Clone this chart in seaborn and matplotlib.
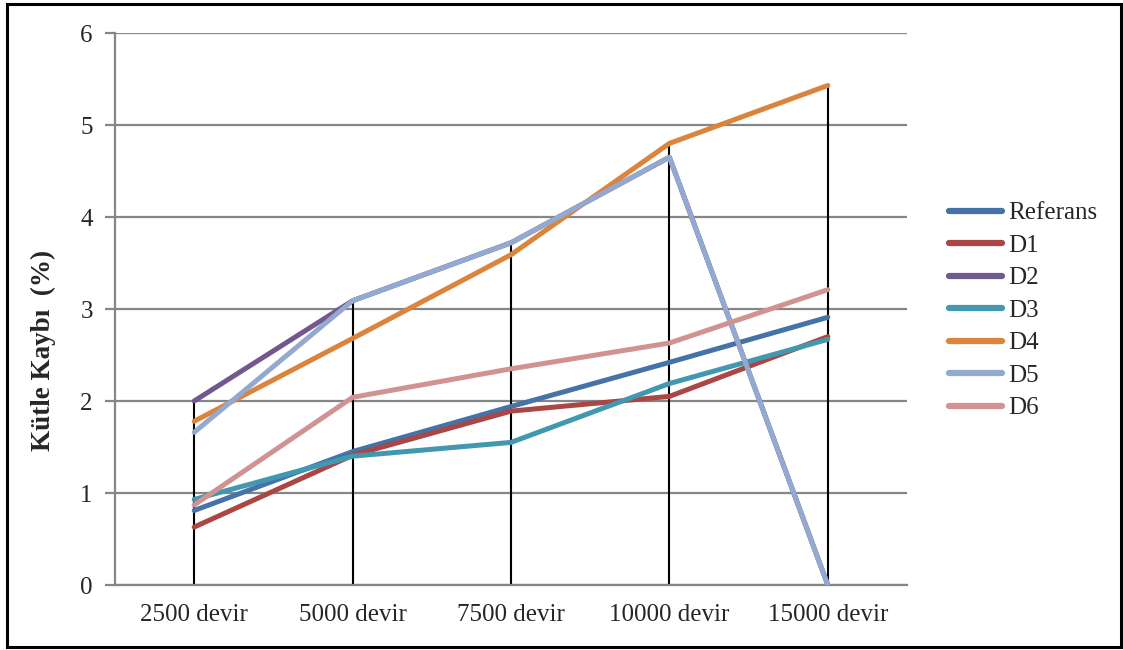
import matplotlib
matplotlib.use("Agg")
import matplotlib.pyplot as plt
import seaborn as sns
import pandas as pd
from matplotlib.patches import Rectangle
from matplotlib.lines import Line2D

categories = ["2500 devir", "5000 devir", "7500 devir", "10000 devir", "15000 devir"]
referans = [0.81, 1.45, 1.94, 2.42, 2.91]
d1 = [0.63, 1.41, 1.89, 2.05, 2.70]
d2 = [2.00, 3.09, 3.72, 4.65, 0.00]
d3 = [0.93, 1.40, 1.55, 2.19, 2.67]
d4 = [1.78, 2.68, 3.59, 4.80, 5.43]
d5 = [1.66, 3.09, 3.72, 4.65, 0.00]
d6 = [0.87, 2.04, 2.35, 2.63, 3.21]
series_names = ["Referans", "D1", "D2", "D3", "D4", "D5", "D6"]
y_ticks = [0, 1, 2, 3, 4, 5, 6]
y_label = "Kütle Kaybı  (%)"

colors = ["#4572A7", "#AA4643", "#71588F", "#4198AF", "#DB843D", "#93A9CF", "#D19392"]

series = [referans, d1, d2, d3, d4, d5, d6]
rows = []
for name, vals in zip(series_names, series):
    for i, (cat, v) in enumerate(zip(categories, vals)):
        rows.append({"pos": i, "devir": cat, "seri": name, "deger": v})
df = pd.DataFrame(rows)

sns.set_theme(style="white")
plt.rcParams["font.family"] = ["Liberation Serif", "DejaVu Serif"]

fig = plt.figure(figsize=(11.23, 6.5), dpi=100)
ax = fig.add_axes([115 / 1123, 65 / 650, (907 - 115) / 1123, (585 - 33) / 650])

# drop lines from the highest value in each category down to zero
tops = df.groupby("pos")["deger"].max()
ax.vlines(tops.index, 0, tops.values, color="black", linewidth=1.5, zorder=2)

sns.lineplot(data=df, x="pos", y="deger", hue="seri", hue_order=series_names,
             palette=colors, linewidth=3.6, ax=ax, legend=False,
             solid_capstyle="round", zorder=3, sort=False, estimator=None)

ax.set_xlim(-0.5, len(categories) - 0.5)
ax.set_ylim(0, 6)
ax.set_yticks(y_ticks)
ax.set_yticklabels([str(t) for t in y_ticks], fontsize=18)
ax.set_xticks(range(len(categories)))
ax.set_xticklabels(categories, fontsize=18)
ax.set_xlabel("")
ax.set_ylabel("")
fig.text(43 / 1123, 1 - 350 / 650, y_label, rotation=90, ha="center", va="center",
         fontsize=19.5, fontweight="bold")

ax.grid(axis="y", color="#868686", linewidth=1.6, zorder=1)
ax.grid(axis="x", visible=False)
for side in ["top", "right"]:
    ax.spines[side].set_visible(False)
ax.spines["left"].set_color("#868686")
ax.spines["left"].set_linewidth(1.6)
ax.spines["bottom"].set_color("#868686")
ax.spines["bottom"].set_linewidth(1.6)
ax.tick_params(axis="y", length=7, width=1.6, color="#868686", pad=9, left=True)
ax.tick_params(axis="x", length=0, pad=14)

handles = [Line2D([0], [0], color=c, linewidth=4.5, solid_capstyle="round") for c in colors]
fig.legend(handles, series_names, loc="upper left",
           bbox_to_anchor=(949 / 1123, 1 - 202 / 650), frameon=False,
           fontsize=18, handlelength=2.1, handletextpad=0.25, labelspacing=0.4,
           borderaxespad=0, borderpad=0)

fig.patches.append(Rectangle((7 / 1123, 3 / 650), 1114 / 1123, 643 / 650,
                             transform=fig.transFigure, fill=False,
                             edgecolor="black", linewidth=2.2))

fig.savefig("out.png", dpi=100, facecolor="white")
